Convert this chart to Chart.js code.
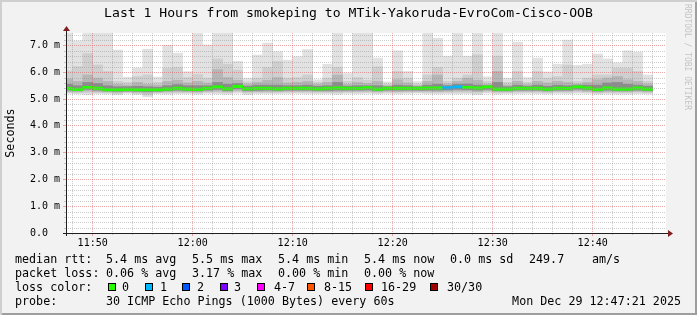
<!DOCTYPE html>
<html><head><meta charset="utf-8">
<script src="https://cdn.jsdelivr.net/npm/chart.js@4/dist/chart.umd.min.js"></script>
<style>
html,body{margin:0;padding:0;background:#f2f2f2;}
#wrap{position:relative;width:697px;height:315px;background:#f2f2f2;box-shadow:inset 2px 2px 0 #cfcfcf, inset -2px -2px 0 #9e9e9e;overflow:hidden;}
#c{position:absolute;left:0;top:0;}
.t{position:absolute;font-family:'DejaVu Sans Mono',monospace;font-size:11.7px;line-height:14px;white-space:pre;color:#000;}
.sw{position:absolute;width:6px;height:6px;border:1px solid #000;}
#wm{position:absolute;left:683px;top:4px;font-family:'DejaVu Sans Mono',monospace;font-size:8px;line-height:9px;color:#c4c4c4;writing-mode:vertical-rl;white-space:pre;}
</style></head>
<body>
<div id="wrap">
<canvas id="c" width="697" height="315"></canvas>
<div id="wm">RRDTOOL / TOBI OETIKER</div>
</div>
<script>
// ---- data ----
const title = 'Last 1 Hours from smokeping to MTik-Yakoruda-EvroCom-Cisco-OOB';
const viewStart = '11:47:20';
const viewEnd = '12:47:20';
const slots = ['11:47','11:48','11:49','11:50','11:51','11:52','11:53','11:54','11:55','11:56','11:57','11:58','11:59',
 '12:00','12:01','12:02','12:03','12:04','12:05','12:06','12:07','12:08','12:09','12:10','12:11','12:12','12:13','12:14',
 '12:15','12:16','12:17','12:18','12:19','12:20','12:21','12:22','12:23','12:24','12:25','12:26','12:27','12:28','12:29',
 '12:30','12:31','12:32','12:33','12:34','12:35','12:36','12:37','12:38','12:39','12:40','12:41','12:42','12:43','12:44','12:45'];
const smokeMax = [7.5,7.17,7.5,7.5,7.5,6.83,5.81,6.16,6.86,5.82,7.01,6.71,6.02,
 7.5,7.02,7.5,7.5,6.41,5.78,6.64,7.09,6.77,6.45,6.58,
 6.85,5.72,6.30,7.5,5.95,7.5,7.5,6.53,5.64,6.80,6.03,5.65,
 7.46,7.27,6.60,7.5,6.60,7.5,5.83,7.5,5.78,7.12,5.80,6.53,
 6.01,6.30,7.20,6.26,6.30,6.68,6.50,6.35,6.80,6.75,5.90];
const smokeHi2 = [6.05,6.21,6.70,6.27,6.03,5.66,5.62,5.84,5.90,5.62,6.15,6.18,5.80,
 5.92,5.78,6.50,6.30,6.08,5.64,5.78,6.18,6.40,5.78,5.80,
 5.90,5.63,5.78,6.18,5.66,5.80,5.70,6.20,5.56,6.03,5.78,5.56,
 5.90,6.18,5.66,5.78,5.90,6.66,5.66,6.60,5.62,6.03,5.62,6.03,
 5.78,5.84,6.27,5.66,5.78,5.90,5.90,6.15,6.15,6.03,5.66];
const smokeHi3 = [5.75,5.66,5.90,5.78,5.66,5.55,5.52,5.62,5.55,5.52,5.66,5.70,5.60,
 5.66,5.60,6.10,5.80,5.70,5.55,5.62,5.70,5.80,5.60,5.62,
 5.66,5.55,5.62,5.90,5.55,5.62,5.58,5.66,5.50,5.72,5.60,5.50,
 5.66,5.90,5.56,5.66,5.78,5.70,5.56,6.03,5.52,5.66,5.54,5.66,
 5.60,5.66,5.62,5.56,5.62,5.72,5.78,5.84,5.72,5.66,5.56];
const smokeHi4 = [5.55,5.50,5.62,5.58,5.50,5.46,5.46,5.48,5.46,5.44,5.50,5.54,5.50,
 5.50,5.50,5.62,5.55,5.58,5.48,5.52,5.52,5.52,5.50,5.50,
 5.52,5.48,5.50,5.62,5.48,5.50,5.50,5.50,5.46,5.52,5.50,5.46,
 5.52,5.55,5.50,5.55,5.56,5.52,5.50,5.62,5.46,5.52,5.48,5.52,
 5.48,5.52,5.50,5.52,5.52,5.52,5.60,5.62,5.55,5.52,5.48];
const medianRtt = [5.39,5.36,5.43,5.40,5.35,5.35,5.36,5.35,5.35,5.35,5.37,5.40,5.37,
 5.36,5.40,5.45,5.38,5.47,5.38,5.40,5.40,5.38,5.40,5.40,
 5.40,5.38,5.40,5.41,5.40,5.40,5.42,5.37,5.40,5.40,5.40,5.40,
 5.41,5.41,5.42,5.45,5.43,5.41,5.45,5.37,5.37,5.40,5.40,5.40,
 5.37,5.40,5.40,5.45,5.41,5.36,5.41,5.37,5.37,5.41,5.37];
const smokeLo4 = [5.33,5.31,5.36,5.33,5.30,5.29,5.30,5.29,5.28,5.29,5.31,5.33,5.31,
 5.30,5.33,5.36,5.31,5.38,5.31,5.32,5.33,5.32,5.33,5.33,
 5.33,5.32,5.32,5.33,5.33,5.33,5.34,5.31,5.33,5.33,5.33,5.33,
 5.33,5.33,5.34,5.36,5.35,5.33,5.36,5.31,5.31,5.33,5.33,5.33,
 5.31,5.33,5.33,5.37,5.34,5.30,5.33,5.31,5.31,5.33,5.31];
const smokeLo3 = [5.28,5.27,5.30,5.28,5.27,5.25,5.27,5.25,5.22,5.26,5.27,5.28,5.27,
 5.26,5.29,5.30,5.27,5.32,5.27,5.28,5.28,5.28,5.29,5.29,
 5.29,5.28,5.28,5.28,5.29,5.29,5.29,5.27,5.29,5.28,5.29,5.29,
 5.29,5.28,5.29,5.30,5.30,5.28,5.31,5.27,5.27,5.29,5.29,5.29,
 5.27,5.29,5.29,5.31,5.29,5.26,5.28,5.27,5.27,5.29,5.27];
const smokeLo2 = [5.24,5.23,5.24,5.24,5.23,5.20,5.24,5.21,5.15,5.23,5.23,5.24,5.24,
 5.22,5.25,5.25,5.23,5.27,5.22,5.24,5.24,5.24,5.25,5.25,
 5.25,5.24,5.24,5.23,5.25,5.25,5.25,5.23,5.25,5.24,5.25,5.25,
 5.25,5.24,5.25,5.25,5.25,5.22,5.26,5.23,5.24,5.25,5.25,5.25,
 5.23,5.25,5.25,5.26,5.25,5.22,5.24,5.23,5.23,5.25,5.23];
const smokeMin = [5.21,5.20,5.16,5.20,5.19,5.16,5.21,5.17,5.08,5.20,5.18,5.20,5.20,
 5.18,5.21,5.20,5.18,5.22,5.17,5.20,5.20,5.20,5.21,5.21,
 5.20,5.20,5.20,5.18,5.21,5.20,5.21,5.19,5.21,5.19,5.21,5.22,
 5.20,5.19,5.20,5.19,5.20,5.16,5.22,5.18,5.20,5.20,5.21,5.20,
 5.19,5.21,5.20,5.22,5.21,5.18,5.19,5.18,5.18,5.20,5.19];
const lostPings = [0,0,0,0,0,0,0,0,0,0,0,0,0,
 0,0,0,0,0,0,0,0,0,0,0,
 0,0,0,0,0,0,0,0,0,0,0,0,
 0,0,1,1,0,0,0,0,0,0,0,0,
 0,0,0,0,0,0,0,0,0,0,0];
const lossLabels = ['0','1','2','3','4-7','8-15','16-29','30/30'];
const lossColors = ['#26ff00','#00b8ff','#0059ff','#7e00ff','#ff00ff','#ff5500','#ff0000','#a10000'];
const xTickLabels = ['11:50','12:00','12:10','12:20','12:30','12:40'];
const yTickValues = [0,1,2,3,4,5,6,7];
const yTickLabels = ['0.0  ','1.0 m','2.0 m','3.0 m','4.0 m','5.0 m','6.0 m','7.0 m'];
const yMax = 7.46;

// ---- helpers ----
const mono = "'DejaVu Sans Mono', monospace";
function toMin(t){ const p = t.split(':').map(Number); return p[0]*60 + p[1] + (p[2]||0)/60 - (11*60+50); }
function lossIndex(n){ if(n<=3) return n; if(n<=7) return 4; if(n<=15) return 5; if(n<=29) return 6; return 7; }
const xMin = toMin(viewStart), xMax = toMin(viewEnd);
const xc = slots.map(s => toMin(s) + 0.5);
const xMajor = xTickLabels.map(toMin);
const xMinor = []; for (let v = Math.ceil(xMin/2)*2; v <= xMax; v += 2) if (v % 10 !== 0) xMinor.push(v);
const yMinor = []; for (let i = 1; i*0.2 <= yMax; i++) if (i % 5 !== 0) yMinor.push(+(i*0.2).toFixed(1));
const band = (lo, hi) => xc.map((x,i) => ({x, y:[lo[i], hi[i]]}));
const minorCol = 'rgba(143,143,143,0.45)';
const majorCol = 'rgba(222,79,79,0.5)';
const common = {grouped:false, barPercentage:1, categoryPercentage:1, borderWidth:0, clip:0, xAxisID:'x', yAxisID:'y'};

const bgPlugin = { id:'bg', beforeDraw(chart){ const {ctx, chartArea:a} = chart; ctx.save(); ctx.fillStyle='#ffffff'; ctx.fillRect(a.left, a.top, a.width, a.height); ctx.restore(); } };
// minor horizontal grid (every 0.2 ms), placed with the y scale
const minorGridPlugin = { id:'minorGrid', afterDatasetsDraw(chart){
  const {ctx, chartArea:a, scales:{y}} = chart;
  ctx.save();
  ctx.strokeStyle = minorCol; ctx.lineWidth = 1; ctx.setLineDash([1,1]);
  ctx.beginPath();
  yMinor.forEach(v => { const py = Math.round(y.getPixelForValue(v)) + 0.5; ctx.moveTo(a.left, py); ctx.lineTo(a.right, py); });
  ctx.stroke();
  ctx.setLineDash([]);
  ctx.beginPath();
  yMinor.forEach(v => { const py = Math.round(y.getPixelForValue(v)) + 0.5; ctx.moveTo(a.left-2, py); ctx.lineTo(a.left, py); });
  ctx.stroke();
  ctx.restore();
}};
const axisPlugin = { id:'axes', afterDraw(chart){
  const {ctx, chartArea:a} = chart;
  const x0 = Math.round(a.left)+0.5, y0 = Math.round(a.bottom)+0.5;
  ctx.save();
  ctx.strokeStyle = '#1f1f1f'; ctx.lineWidth = 1;
  ctx.beginPath(); ctx.moveTo(x0, a.bottom+3); ctx.lineTo(x0, a.top-3);
  ctx.moveTo(a.left-3, y0); ctx.lineTo(a.right+3, y0); ctx.stroke();
  ctx.fillStyle = '#801f1f';
  ctx.beginPath(); ctx.moveTo(x0, a.top-7); ctx.lineTo(x0-3.5, a.top-2); ctx.lineTo(x0+3.5, a.top-2); ctx.closePath(); ctx.fill();
  ctx.beginPath(); ctx.moveTo(a.right+7, y0); ctx.lineTo(a.right+2, y0-3.5); ctx.lineTo(a.right+2, y0+3.5); ctx.closePath(); ctx.fill();
  ctx.restore();
}};

new Chart(document.getElementById('c'), {
  type:'bar',
  data: { datasets: [
    Object.assign({}, common, {label:'median rtt', order:0, data: xc.map((x,i)=>({x, y:[medianRtt[i]-0.045, medianRtt[i]+0.045]})), backgroundColor: lostPings.map(n => lossColors[lossIndex(n)])}),
    Object.assign({}, common, {label:'smoke4', order:1, data: band(smokeLo4, smokeHi4), backgroundColor:'#8c8c8c'}),
    Object.assign({}, common, {label:'smoke3', order:2, data: band(smokeLo3, smokeHi3), backgroundColor:'#b6b6b6'}),
    Object.assign({}, common, {label:'smoke2', order:3, data: band(smokeLo2, smokeHi2), backgroundColor:'#cfcfcf'}),
    Object.assign({}, common, {label:'smoke1', order:4, data: band(smokeMin, smokeMax), backgroundColor:'#e2e2e2'})
  ]},
  options: {
    responsive:false, animation:false, devicePixelRatio:1,
    layout:{padding:0},
    plugins:{
      legend:{display:false}, tooltip:{enabled:false},
      title:{display:true, text:title, color:'#000', font:{family:mono, size:13.1, weight:'normal'}, padding:{top:6, bottom:11.4}}
    },
    scales:{
      x:{type:'linear', position:'bottom', weight:1, min:xMin, max:xMax, offset:false,
         afterBuildTicks:s=>{ s.ticks = xMajor.map(v=>({value:v})); },
         afterFit:s=>{ s.height = 82; },
         ticks:{callback:v=>xTickLabels[xMajor.indexOf(v)], color:'#000', font:{family:mono, size:10}, padding:1, maxRotation:0, autoSkip:false},
         grid:{offset:false, color:majorCol, lineWidth:1, z:1, tickLength:3},
         border:{display:false, dash:[1,1]}},
      xm:{type:'linear', position:'bottom', weight:0, min:xMin, max:xMax, offset:false,
         afterBuildTicks:s=>{ s.ticks = xMinor.map(v=>({value:v})); },
         afterFit:s=>{ s.height = 0; },
         ticks:{display:false},
         grid:{offset:false, color:minorCol, lineWidth:1, z:1, tickLength:2},
         border:{display:false, dash:[1,1]}},
      y:{type:'linear', position:'left', min:0, max:yMax,
         afterBuildTicks:s=>{ s.ticks = yTickValues.map(v=>({value:v})); },
         afterFit:s=>{ s.width = 66; },
         ticks:{autoSkip:false, callback:v=>yTickLabels[yTickValues.indexOf(v)], color:'#000', font:{family:mono, size:10}, padding:3},
         title:{display:true, text:'Seconds', color:'#000', font:{family:mono, size:11.7}, padding:{top:4, bottom:0}},
         grid:{lineWidth:1, z:2, tickLength:3, color:majorCol},
         border:{display:false, dash:[1,1]}},
      yr:{type:'linear', position:'right', min:0, max:1,
         afterFit:s=>{ s.width = 31; },
         ticks:{display:false}, grid:{display:false}, border:{display:false}}
    }
  },
  plugins:[bgPlugin, minorGridPlugin, axisPlugin]
});

// ---- text legend below the graph ----
const wrap = document.getElementById('wrap');
function txt(x, y, s){ const d = document.createElement('div'); d.className='t'; d.style.left = x+'px'; d.style.top = y+'px'; d.textContent = s; wrap.appendChild(d); return d; }
const rows = [
  [252, [[15,'median rtt:'],[106,'5.4 ms avg'],[192,'5.5 ms max'],[278,'5.4 ms min'],[364,'5.4 ms now'],[450,'0.0 ms sd'],[529,'249.7'],[592,'am/s']]],
  [266, [[15,'packet loss:'],[106,'0.06 % avg'],[192,'3.17 % max'],[278,'0.00 % min'],[364,'0.00 % now']]],
  [280, [[15,'loss color:']]],
  [294, [[15,'probe:'],[106,'30 ICMP Echo Pings (1000 Bytes) every 60s']]]
];
rows.forEach(([y, items]) => items.forEach(([x, s]) => txt(x, y, s)));
const dateEl = txt(0, 294, 'Mon Dec 29 12:47:21 2025'); dateEl.style.left = ''; dateEl.style.right = '16px';
const swX = [108,145.3,182.2,219.6,257,306.7,365,430];
const lblX = [122,160,197,234,274,324,381,447];
lossLabels.forEach((l, i) => {
  const s = document.createElement('div'); s.className='sw'; s.style.left = swX[i]+'px'; s.style.top = '283px'; s.style.background = lossColors[i]; wrap.appendChild(s);
  txt(lblX[i], 280, l);
});
</script>
</body></html>
